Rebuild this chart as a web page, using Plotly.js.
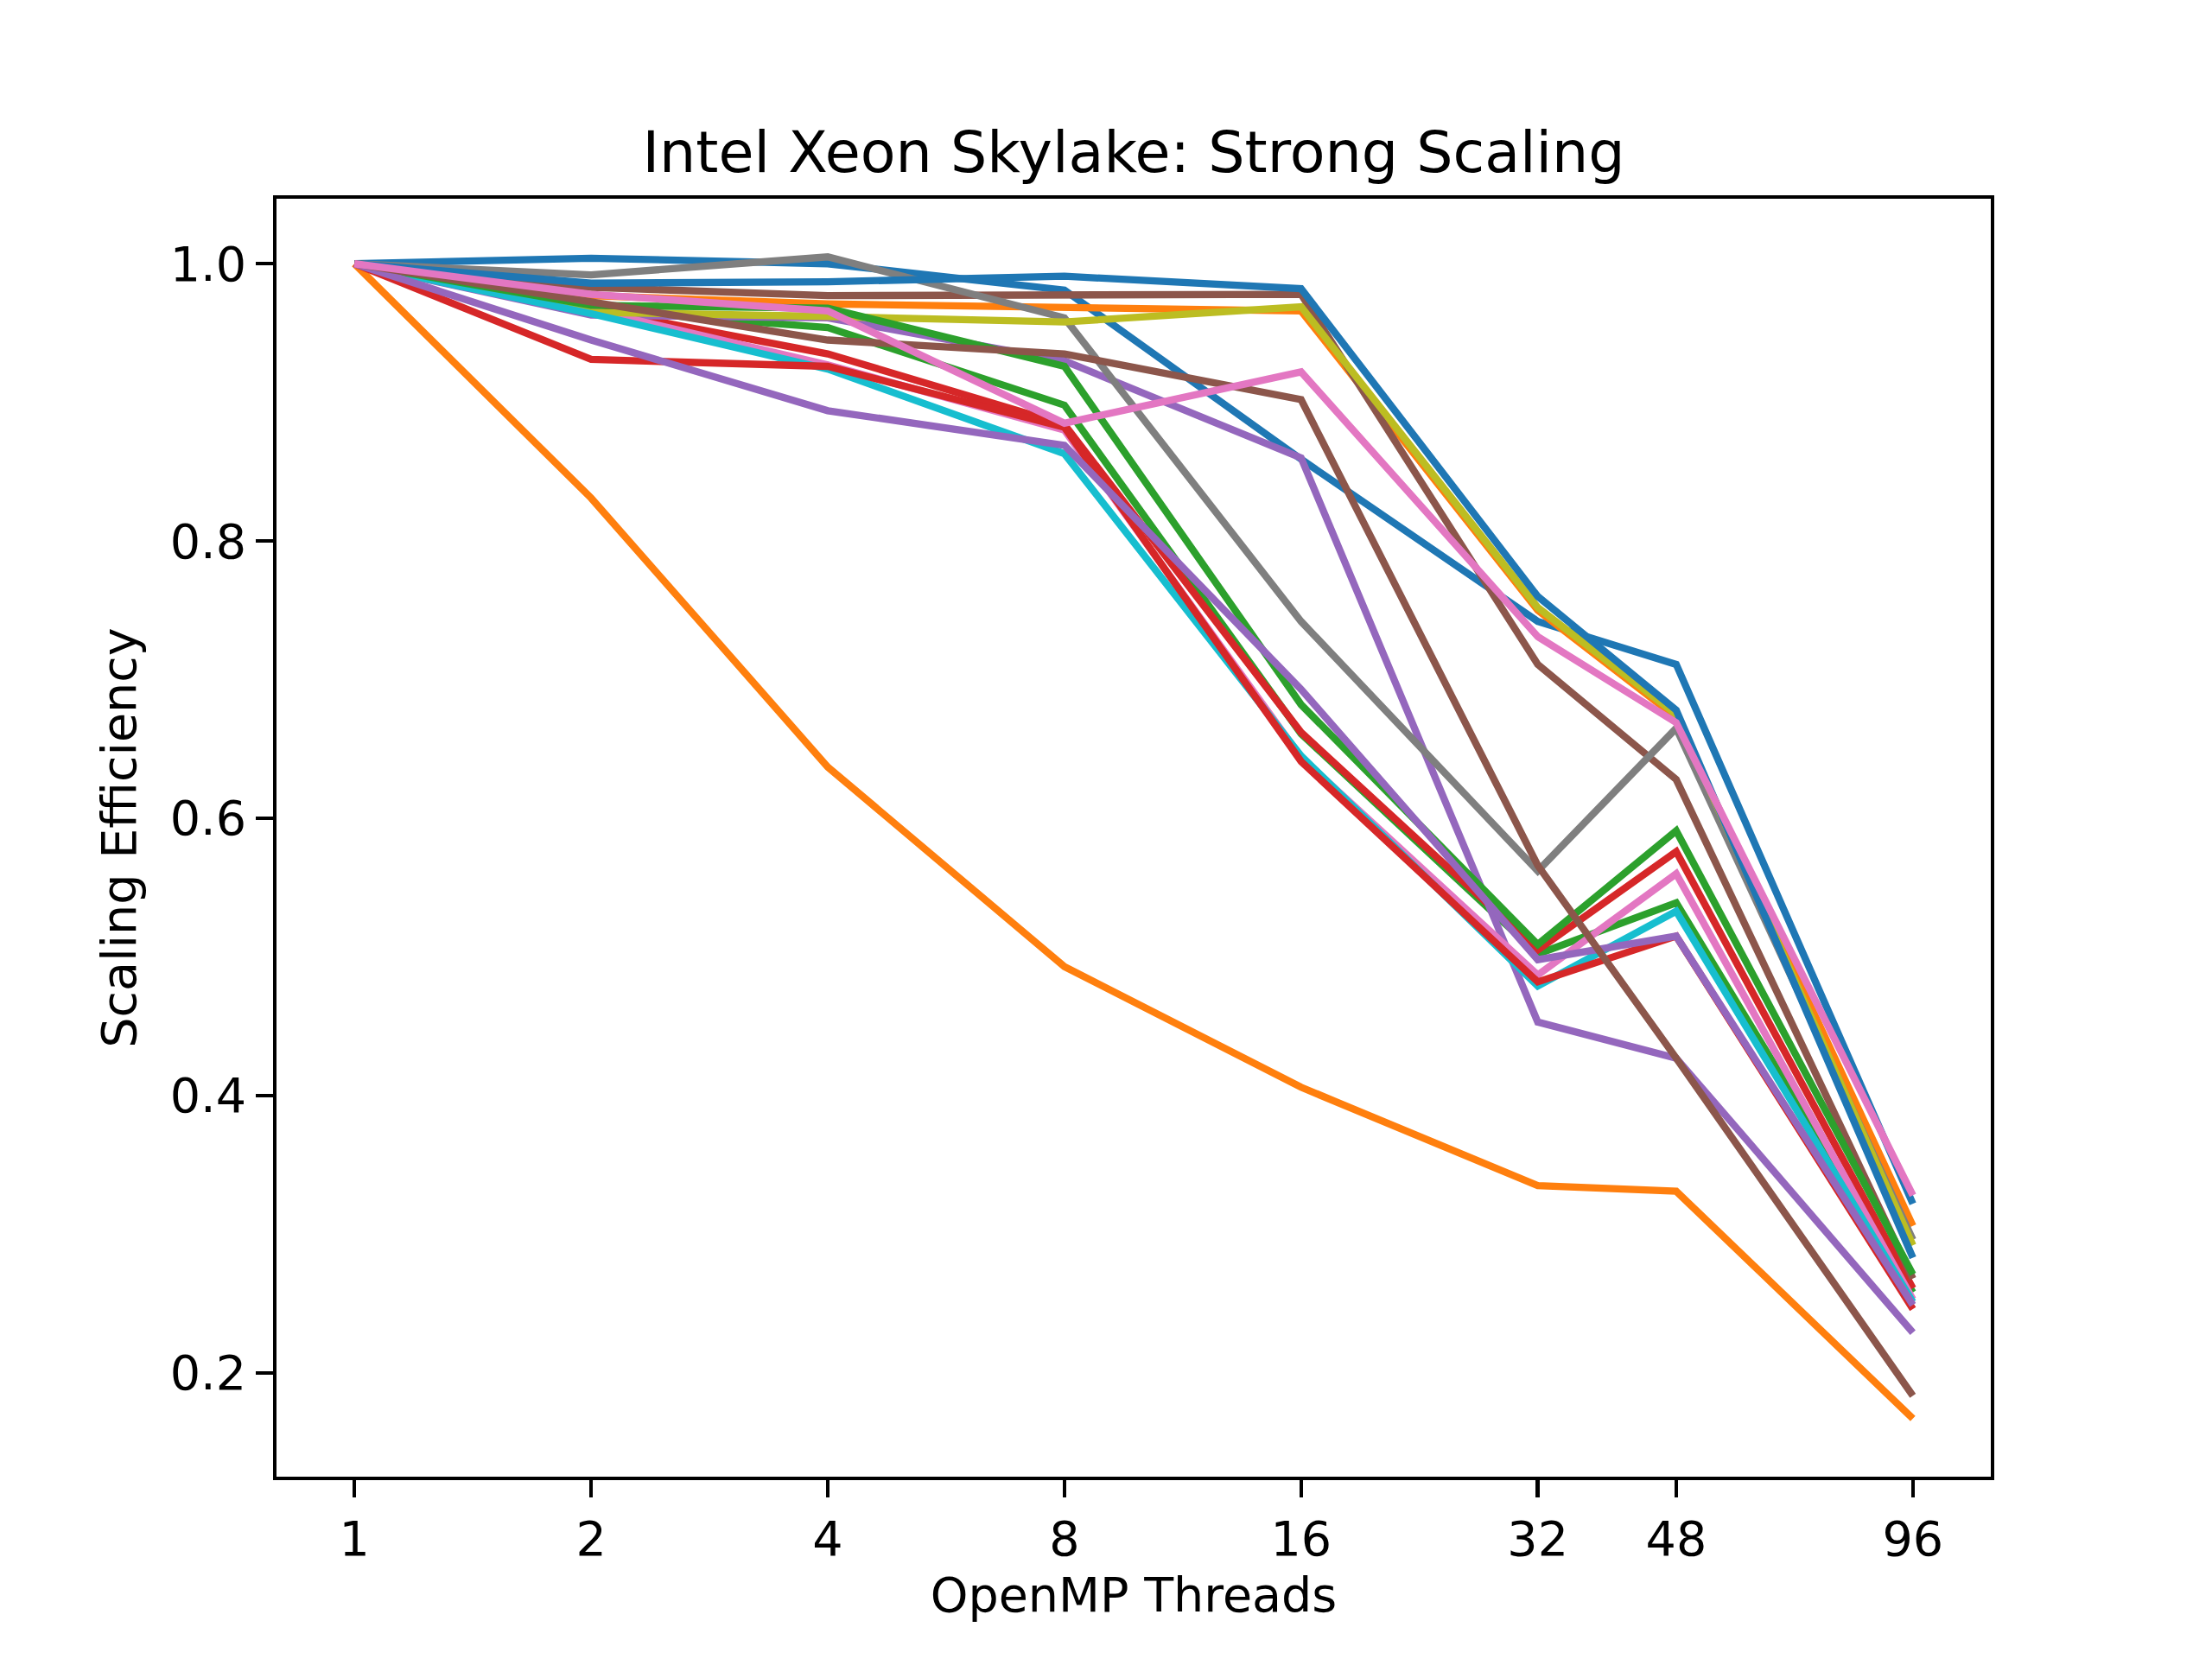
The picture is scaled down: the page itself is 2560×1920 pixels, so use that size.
<!DOCTYPE html>
<html>
<head>
<meta charset="utf-8">
<script src="https://cdn.plot.ly/plotly-3.0.1.min.js"></script>
<style>
  html, body { margin: 0; padding: 0; background: #ffffff; }
  #chart { width: 2560px; height: 1920px; }
</style>
</head>
<body>
<div id="chart"></div>
<script>
// OpenMP thread counts (x axis)
const threads = [1, 2, 4, 8, 16, 32, 48, 96];
const xTickLabels = ["1", "2", "4", "8", "16", "32", "48", "96"];
const yTickVals = [0.2, 0.4, 0.6, 0.8, 1.0];
const yTickLabels = ["0.2", "0.4", "0.6", "0.8", "1.0"];

// Scaling efficiency, one array per run (matplotlib default colour cycle order)
const run01 = [1.0, 1.004, 1.000, 0.981, 0.859, 0.742, 0.711, 0.322];
const run02 = [1.0, 0.977, 0.971, 0.968, 0.966, 0.750, 0.673, 0.306];
const run03 = [1.0, 0.967, 0.954, 0.898, 0.661, 0.502, 0.539, 0.258];
const run04 = [1.0, 0.968, 0.935, 0.884, 0.662, 0.505, 0.576, 0.261];
const run05 = [1.0, 0.963, 0.961, 0.930, 0.860, 0.453, 0.427, 0.229];
const run06 = [1.0, 0.983, 0.977, 0.978, 0.978, 0.711, 0.628, 0.268];
const run07 = [1.0, 0.967, 0.927, 0.880, 0.644, 0.487, 0.560, 0.253];
const run08 = [1.0, 0.992, 1.005, 0.961, 0.742, 0.562, 0.665, 0.296];
const run09 = [1.0, 0.965, 0.962, 0.958, 0.969, 0.752, 0.675, 0.292];
const run10 = [1.0, 0.964, 0.924, 0.863, 0.645, 0.479, 0.533, 0.251];
const run11 = [1.0, 0.986, 0.987, 0.991, 0.982, 0.760, 0.678, 0.283];
const run12 = [1.0, 0.831, 0.637, 0.493, 0.406, 0.335, 0.331, 0.167];
const run13 = [1.0, 0.970, 0.968, 0.926, 0.682, 0.509, 0.591, 0.271];
const run14 = [1.0, 0.931, 0.926, 0.882, 0.641, 0.482, 0.515, 0.246];
const run15 = [1.0, 0.945, 0.894, 0.869, 0.693, 0.498, 0.515, 0.249];
const run16 = [1.0, 0.973, 0.945, 0.935, 0.902, 0.566, 0.427, 0.1835];
const run17 = [1.0, 0.978, 0.966, 0.885, 0.922, 0.731, 0.669, 0.328];

const runs = [run01, run02, run03, run04, run05, run06, run07, run08, run09,
              run10, run11, run12, run13, run14, run15, run16, run17];

const palette = ['#1f77b4', '#ff7f0e', '#2ca02c', '#d62728', '#9467bd',
                 '#8c564b', '#e377c2', '#7f7f7f', '#bcbd22', '#17becf'];

const traces = runs.map((ys, i) => ({
  x: threads,
  y: ys,
  type: 'scatter',
  mode: 'lines',
  line: { color: palette[i % palette.length], width: 8.33 },
  hoverinfo: 'skip',
  showlegend: false
}));

const FONT = 'DejaVu Sans, Liberation Sans, sans-serif';
const PT = 400 / 72;

const layout = {
  width: 2560,
  height: 1920,
  autosize: false,
  paper_bgcolor: '#ffffff',
  plot_bgcolor: '#ffffff',
  font: { family: FONT, size: 10 * PT, color: '#000000' },
  margin: { l: 320, r: 256, t: 230.4, b: 211.2, pad: 0 },
  showlegend: false,
  title: {
    text: 'Intel Xeon Skylake: Strong Scaling',
    font: { family: FONT, size: 12 * PT, color: '#000000' },
    xref: 'paper', x: 0.5, xanchor: 'center',
    yref: 'container', y: 1 - 176 / 1920, yanchor: 'middle'
  },
  xaxis: {
    type: 'log',
    range: [-0.09911, 2.08138],
    tickmode: 'array',
    tickvals: threads,
    ticktext: xTickLabels,
    ticks: 'outside',
    ticklen: 3.5 * PT,
    tickwidth: 0.8 * PT,
    tickcolor: '#000000',
    ticklabelstandoff: 3.5 * PT,
    showline: true,
    linecolor: '#000000',
    linewidth: 0.8 * PT,
    mirror: true,
    showgrid: false,
    zeroline: false,
    tickfont: { family: FONT, size: 10 * PT, color: '#000000' },
    title: {
      text: 'OpenMP Threads',
      font: { family: FONT, size: 10 * PT, color: '#000000' },
      standoff: 14
    }
  },
  yaxis: {
    range: [0.1251, 1.0469],
    tickmode: 'array',
    tickvals: yTickVals,
    ticktext: yTickLabels,
    ticks: 'outside',
    ticklen: 3.5 * PT,
    tickwidth: 0.8 * PT,
    tickcolor: '#000000',
    ticklabelstandoff: 3.5 * PT,
    showline: true,
    linecolor: '#000000',
    linewidth: 0.8 * PT,
    mirror: true,
    showgrid: false,
    zeroline: false,
    tickfont: { family: FONT, size: 10 * PT, color: '#000000' },
    title: {
      text: 'Scaling Efficiency',
      font: { family: FONT, size: 10 * PT, color: '#000000' },
      standoff: 22
    }
  }
};

Plotly.newPlot('chart', traces, layout, { staticPlot: true, displayModeBar: false });
</script>
</body>
</html>
